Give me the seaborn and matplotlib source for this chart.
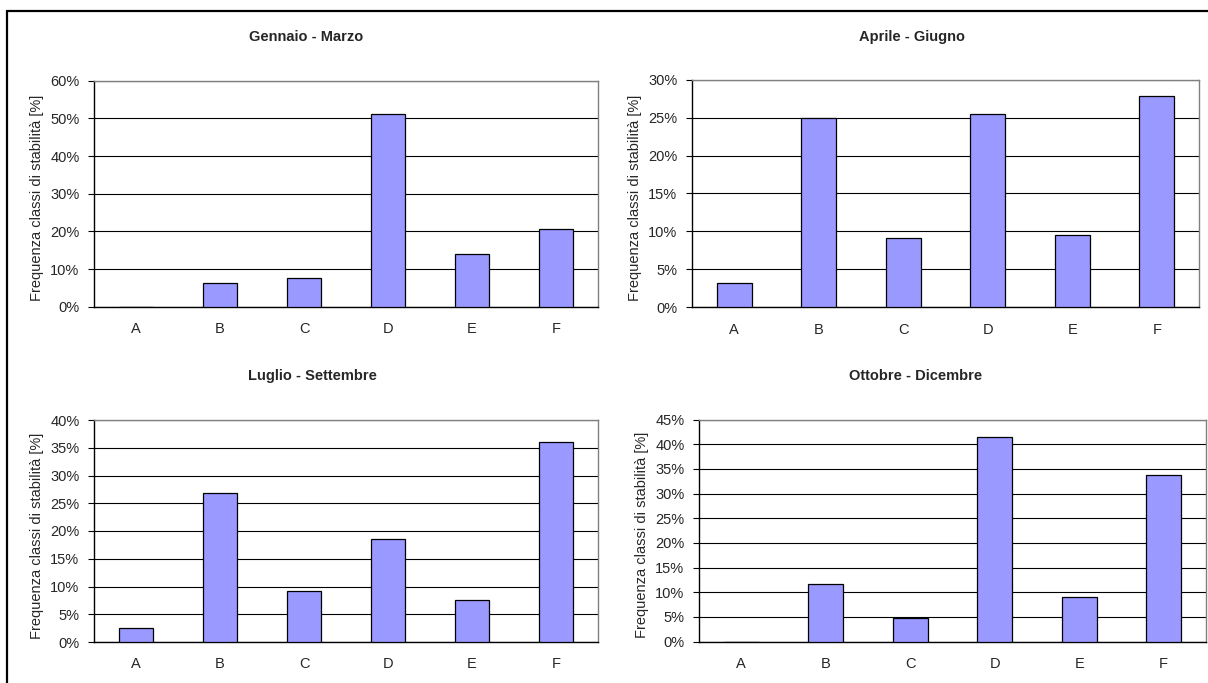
import matplotlib
matplotlib.use("Agg")
import matplotlib.pyplot as plt
from matplotlib.lines import Line2D
from matplotlib.ticker import FuncFormatter, MultipleLocator, FixedLocator
import seaborn as sns
import pandas as pd

sns.set_style("white")
plt.rcParams["font.family"] = ["Liberation Sans", "DejaVu Sans"]

# Stability classes and quarterly frequencies [%]
classes = ["A", "B", "C", "D", "E", "F"]
titles = ["Gennaio - Marzo", "Aprile - Giugno", "Luglio - Settembre", "Ottobre - Dicembre"]
freq_jan_mar = [0.0, 6.2, 7.6, 51.1, 14.0, 20.6]
freq_apr_jun = [3.2, 24.9, 9.1, 25.5, 9.5, 27.8]
freq_jul_sep = [2.6, 26.8, 9.1, 18.5, 7.5, 36.0]
freq_oct_dec = [0.0, 11.6, 4.7, 41.4, 9.1, 33.7]
y_max = [60, 30, 40, 45]
y_step = [10, 5, 5, 5]
ylabel = "Frequenza classi di stabilità [%]"

series = [freq_jan_mar, freq_apr_jun, freq_jul_sep, freq_oct_dec]

W, H = 1208, 683
fig = plt.figure(figsize=(W / 100, H / 100), dpi=100)
fig.patch.set_facecolor("white")

# panel geometry in pixels: left, top, right, bottom of the plot area
boxes = [
    (94, 80.7, 598, 306.7),
    (692, 79.5, 1199, 307.5),
    (94, 420, 598, 642),
    (699, 419.5, 1206, 641.5),
]
title_pos = [(306, 37), (912, 37), (312, 376), (916, 376)]

for vals, title, ymax, step, box, tpos in zip(series, titles, y_max, y_step, boxes, title_pos):
    l, t, r, b = box
    ax = fig.add_axes([l / W, 1 - b / H, (r - l) / W, (b - t) / H])
    df = pd.DataFrame({"classe": classes, "freq": vals})
    sns.barplot(data=df, x="classe", y="freq", color="#9999FF", saturation=1,
                edgecolor="black", linewidth=0.9, width=0.41, ax=ax, zorder=3)
    ax.set_xlim(-0.5, len(classes) - 0.5)
    ax.set_ylim(0, ymax)
    ax.yaxis.set_major_locator(MultipleLocator(step))
    ax.yaxis.set_major_formatter(FuncFormatter(lambda v, p: f"{v:.0f}%"))
    ax.grid(axis="y", color="black", linewidth=0.8, zorder=0)
    ax.set_axisbelow(True)
    ax.set_xlabel("")
    ax.set_ylabel(ylabel, fontsize=10.5)
    ax.yaxis.set_label_coords(-0.099, 0.48)

    # category boundaries carry the tick marks, labels sit at category centres
    ax.xaxis.set_minor_locator(FixedLocator([i - 0.5 for i in range(len(classes) + 1)]))
    ax.tick_params(axis="x", which="major", length=0, pad=11, labelsize=10.5)
    ax.tick_params(axis="x", which="minor", length=4.5, width=0.8, color="black", direction="out")
    ax.tick_params(axis="y", which="major", length=4.5, width=0.8, color="black",
                   direction="out", pad=6, labelsize=10.5, left=True)

    for side in ("left", "bottom"):
        ax.spines[side].set_color("black")
        ax.spines[side].set_linewidth(1.0)
    for side in ("top", "right"):
        ax.spines[side].set_visible(True)
        ax.spines[side].set_color("#808080")
        ax.spines[side].set_linewidth(1.0)

    fig.text(tpos[0] / W, 1 - tpos[1] / H, title, ha="center", va="center",
             fontsize=10.5, fontweight="bold")

# outer frame of the sheet (left and top edges)
fig.add_artist(Line2D([7 / W, 7 / W], [0, 1 - 11 / H], transform=fig.transFigure,
                      color="black", linewidth=1.6))
fig.add_artist(Line2D([7 / W, 1], [1 - 11 / H, 1 - 11 / H], transform=fig.transFigure,
                      color="black", linewidth=1.6))

fig.savefig("out.png", dpi=100, facecolor="white")
